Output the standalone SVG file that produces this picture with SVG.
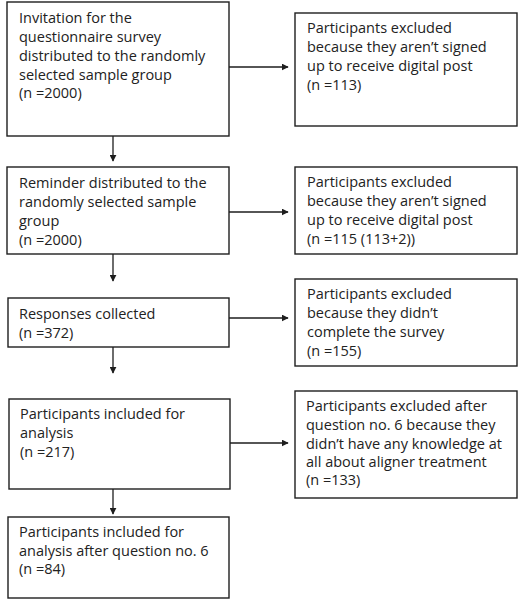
<svg xmlns="http://www.w3.org/2000/svg" width="522" height="609" viewBox="0 0 522 609">
<style>
.box{fill:#ffffff;stroke:#1e1e1e;stroke-width:1.4}
.t{font-family:"Open Sans","Liberation Sans",Arial,sans-serif;font-size:14.5px;fill:#222222}
.c{stroke:#1e1e1e;stroke-width:1.3;fill:none}
</style>
<defs>
<marker id="ah" viewBox="0 0 10 10" refX="9" refY="5" markerWidth="7" markerHeight="7" markerUnits="userSpaceOnUse" orient="auto">
<path d="M0,0 L10,5 L0,10 Z" fill="#1e1e1e"/>
</marker>
</defs>
<rect width="522" height="609" fill="#ffffff"/>
<g id="connectors">
<line class="c" x1="113" y1="136" x2="113" y2="161" marker-end="url(#ah)"/>
<line class="c" x1="113" y1="254" x2="113" y2="281" marker-end="url(#ah)"/>
<line class="c" x1="113" y1="347" x2="113" y2="373" marker-end="url(#ah)"/>
<line class="c" x1="113" y1="489" x2="113" y2="514" marker-end="url(#ah)"/>
<line class="c" x1="229" y1="67" x2="288" y2="67" marker-end="url(#ah)"/>
<line class="c" x1="229" y1="212" x2="288" y2="212" marker-end="url(#ah)"/>
<line class="c" x1="229" y1="318" x2="288" y2="318" marker-end="url(#ah)"/>
<line class="c" x1="230" y1="443" x2="288" y2="443" marker-end="url(#ah)"/>
</g>
<g id="invitation">
<rect class="box" x="7" y="2" width="222" height="134"/>
<text class="t" x="19" y="23">Invitation for the</text>
<text class="t" x="19" y="42">questionnaire survey</text>
<text class="t" x="19" y="61">distributed to the randomly</text>
<text class="t" x="19" y="80">selected sample group</text>
<text class="t" x="19" y="98">(n =2000)</text>
</g>
<g id="excluded1">
<rect class="box" x="295" y="13" width="222" height="113"/>
<text class="t" x="307" y="33">Participants excluded</text>
<text class="t" x="307" y="52">because they aren’t signed</text>
<text class="t" x="307" y="71">up to receive digital post</text>
<text class="t" x="307" y="90">(n =113)</text>
</g>
<g id="reminder">
<rect class="box" x="7" y="167" width="222" height="87"/>
<text class="t" x="19" y="188">Reminder distributed to the</text>
<text class="t" x="19" y="207">randomly selected sample</text>
<text class="t" x="19" y="226">group</text>
<text class="t" x="19" y="245">(n =2000)</text>
</g>
<g id="excluded2">
<rect class="box" x="295" y="167" width="222" height="87"/>
<text class="t" x="307" y="187">Participants excluded</text>
<text class="t" x="307" y="206">because they aren’t signed</text>
<text class="t" x="307" y="225">up to receive digital post</text>
<text class="t" x="307" y="244">(n =115 (113+2))</text>
</g>
<g id="responses">
<rect class="box" x="8" y="298" width="221" height="49"/>
<text class="t" x="19" y="319">Responses collected</text>
<text class="t" x="19" y="338">(n =372)</text>
</g>
<g id="excluded3">
<rect class="box" x="295" y="279" width="222" height="87"/>
<text class="t" x="307" y="299">Participants excluded</text>
<text class="t" x="307" y="318">because they didn’t</text>
<text class="t" x="307" y="337">complete the survey</text>
<text class="t" x="307" y="356">(n =155)</text>
</g>
<g id="included">
<rect class="box" x="9" y="399" width="221" height="90"/>
<text class="t" x="20" y="419">Participants included for</text>
<text class="t" x="20" y="438">analysis</text>
<text class="t" x="20" y="457">(n =217)</text>
</g>
<g id="excluded4">
<rect class="box" x="295" y="391" width="222" height="107"/>
<text class="t" x="306" y="411">Participants excluded after</text>
<text class="t" x="306" y="430">question no. 6 because they</text>
<text class="t" x="306" y="449">didn’t have any knowledge at</text>
<text class="t" x="306" y="467">all about aligner treatment</text>
<text class="t" x="306" y="485">(n =133)</text>
</g>
<g id="final">
<rect class="box" x="8" y="517" width="221" height="81"/>
<text class="t" x="19" y="537">Participants included for</text>
<text class="t" x="19" y="556">analysis after question no. 6</text>
<text class="t" x="19" y="574">(n =84)</text>
</g>
</svg>
